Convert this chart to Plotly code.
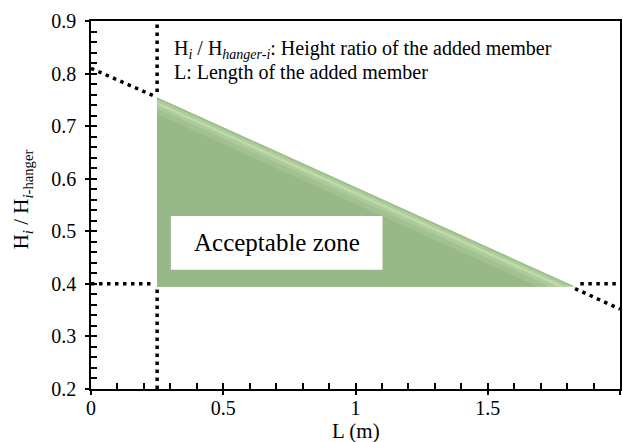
import plotly.graph_objects as go

# Acceptable zone: triangle bounded by the length limit, the height-ratio floor
# and the sloped upper limit
zone_L = [0.25, 0.25, 1.83, 0.25]
zone_H = [0.755, 0.395, 0.395, 0.755]

# Limit lines (dotted), broken where they run along the zone
length_limit_L = [0.25, 0.25, None, 0.25, 0.25]
length_limit_H = [0.2, 0.392, None, 0.765, 0.9]
ratio_floor_L = [0.0, 0.24, None, 1.85, 2.0]
ratio_floor_H = [0.4, 0.4, None, 0.4, 0.4]
slope_limit_L = [0.0, 0.24, None, 1.83, 2.0]
slope_limit_H = [0.81, 0.757, None, 0.391, 0.352]

x_ticks = [0, 0.5, 1, 1.5, 2]
x_tick_text = ["0", "0.5", "1", "1.5", "2"]
y_ticks = [0.2, 0.3, 0.4, 0.5, 0.6, 0.7, 0.8, 0.9]
y_tick_text = ["0.2", "0.3", "0.4", "0.5", "0.6", "0.7", "0.8", "0.9"]

FONT = "Liberation Serif"
GREEN = "#97b889"
dot_line = dict(color="black", width=3.5, dash="3.5px,4.5px")


def shrink(k):
    # scale the zone about its right-angle corner, keeping the two legs in place
    cx, cy = zone_L[1], zone_H[1]
    return ([cx + k * (v - cx) for v in zone_L], [cy + k * (v - cy) for v in zone_H])


fig = go.Figure()

for xs, ys in [(length_limit_L, length_limit_H), (ratio_floor_L, ratio_floor_H),
               (slope_limit_L, slope_limit_H)]:
    fig.add_trace(go.Scatter(x=xs, y=ys, mode="lines", line=dot_line,
                             connectgaps=False, hoverinfo="skip", showlegend=False))

# zone fill with a soft sheen just inside the upper edge
for k, col in [(1.0, "#9cbd8c"), (0.99, "#aecc9a"), (0.975, "#bfdaa9"),
               (0.96, "#aeca9a"), (0.94, "#a1c190"), (0.91, GREEN)]:
    xs, ys = shrink(k)
    fig.add_trace(go.Scatter(x=xs, y=ys, mode="lines", fill="toself",
                             fillcolor=col, line=dict(width=0),
                             hoverinfo="skip", showlegend=False))

# empty trace carrying the overlay axes used for the outward major ticks
fig.add_trace(go.Scatter(x=[], y=[], xaxis="x2", yaxis="y2", showlegend=False))

fig.add_shape(type="rect", x0=0.302, x1=1.102, y0=0.4266, y1=0.529,
              xref="x", yref="y", fillcolor="white", line=dict(width=0))

fig.add_annotation(x=0.702, y=0.478, xref="x", yref="y", text="Acceptable zone",
                   xanchor="center", yanchor="middle", showarrow=False,
                   font=dict(family=FONT, size=25, color="black"))
fig.add_annotation(x=0.305, y=0.845, xref="x", yref="y", xanchor="left", yanchor="middle",
                   text="H<sub><i>i</i></sub> / H<sub><i>hanger-i</i></sub>: Height ratio of the added member",
                   showarrow=False, font=dict(family=FONT, size=20, color="black"))
fig.add_annotation(x=0.305, y=0.8026, xref="x", yref="y", xanchor="left", yanchor="middle",
                   text="L: Length of the added member",
                   showarrow=False, font=dict(family=FONT, size=20, color="black"))

fig.add_annotation(x=-0.13, y=0.516, xref="paper", yref="paper", textangle=-90,
                   xanchor="center", yanchor="middle",
                   text="H<sub><i>i</i></sub> / H<sub><i>i</i>-hanger</sub>",
                   showarrow=False, font=dict(family=FONT, size=21, color="black"))
fig.add_annotation(x=0.501, y=-0.113, xref="paper", yref="paper", text="L (m)",
                   xanchor="center", yanchor="middle",
                   showarrow=False, font=dict(family=FONT, size=21, color="black"))

axis_common = dict(showgrid=False, zeroline=False, showline=True, linecolor="black",
                   linewidth=1.5, tickcolor="black", tickwidth=1.5,
                   tickfont=dict(family=FONT, size=20, color="black"))

fig.update_layout(
    width=623, height=442,
    margin=dict(l=91, r=1, t=21, b=53),
    paper_bgcolor="white", plot_bgcolor="white",
    font=dict(family=FONT, size=20, color="black"),
    xaxis=dict(range=[0, 2], tickvals=x_ticks, ticktext=x_tick_text, ticks="inside",
               ticklen=6, mirror=True, ticklabelstandoff=0,
               minor=dict(dtick=0.1, ticks="inside", ticklen=6, tickcolor="black",
                          tickwidth=1.5),
               **axis_common),
    yaxis=dict(range=[0.2, 0.9], tickvals=y_ticks, ticktext=y_tick_text, ticks="inside",
               ticklen=6, mirror=True, ticklabelstandoff=9,
               minor=dict(dtick=0.02, ticks="inside", ticklen=6, tickcolor="black",
                          tickwidth=1.5),
               **axis_common),
    xaxis2=dict(range=[0, 2], overlaying="x", side="bottom", tickvals=x_ticks,
                showticklabels=False, ticks="outside", ticklen=5, showline=False,
                showgrid=False, zeroline=False, tickcolor="black", tickwidth=1.5),
    yaxis2=dict(range=[0.2, 0.9], overlaying="y", side="left", tickvals=y_ticks,
                showticklabels=False, ticks="outside", ticklen=5, showline=False,
                showgrid=False, zeroline=False, tickcolor="black", tickwidth=1.5),
)

fig.write_html("out.html")
